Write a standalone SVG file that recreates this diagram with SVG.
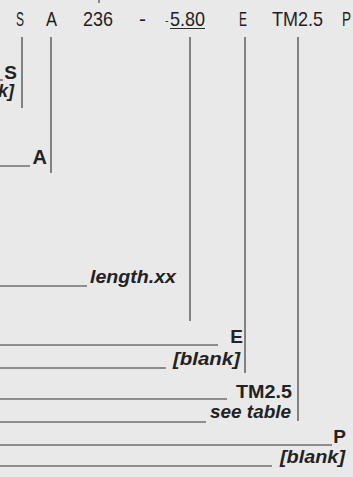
<svg xmlns="http://www.w3.org/2000/svg" width="353" height="477" viewBox="0 0 353 477">
<style>
.code{font-family:"Liberation Sans Narrow","Liberation Sans",Arial,sans-serif;font-size:21px;fill:#1e1e1e}
.lbl{font-family:"Liberation Sans",Arial,sans-serif;font-size:19px;font-weight:bold;fill:#222;text-anchor:end}
.desc{font-family:"Liberation Sans",Arial,sans-serif;font-size:18px;font-weight:bold;font-style:italic;fill:#222;text-anchor:end}
.v{stroke:#4a4a4a;stroke-width:1.3;fill:none}
.h{stroke:#6e6e6e;stroke-width:1.5;fill:none}
</style>
<rect width="353" height="477" fill="#e9e9e9"/>
<g id="code">
<text class="code" x="16" y="26" textLength="8" lengthAdjust="spacingAndGlyphs">S</text>
<text class="code" x="46" y="26" textLength="11" lengthAdjust="spacingAndGlyphs">A</text>
<text class="code" x="83" y="26" textLength="30" lengthAdjust="spacingAndGlyphs">236</text>
<text class="code" x="139" y="26" textLength="7" lengthAdjust="spacingAndGlyphs">-</text>
<text class="code" x="165" y="26"><tspan style="font-size:11px" dy="-2">-</tspan><tspan x="170" dy="2" textLength="35" lengthAdjust="spacingAndGlyphs">5.80</tspan></text>
<line x1="170" y1="28.5" x2="205" y2="28.5" stroke="#2a2a2a" stroke-width="1.2"/>
<text class="code" x="239" y="26" textLength="8" lengthAdjust="spacingAndGlyphs">E</text>
<text class="code" x="272" y="26" textLength="51" lengthAdjust="spacingAndGlyphs">TM2.5</text>
<text class="code" x="342" y="26" textLength="9" lengthAdjust="spacingAndGlyphs">P</text>
<line x1="99" y1="0" x2="99" y2="3" stroke="#444" stroke-width="1.2"/>
</g>
<g id="connectors">
<line class="v" x1="22" y1="37" x2="22" y2="108"/>
<line class="v" x1="51" y1="37" x2="51" y2="173"/>
<line class="v" x1="190" y1="37" x2="190" y2="321"/>
<line class="v" x1="245" y1="37" x2="245" y2="373"/>
<line class="v" x1="298" y1="37" x2="298" y2="421"/>
<line class="h" x1="0" y1="80" x2="3" y2="80"/>
<line class="h" x1="0" y1="166" x2="30" y2="166"/>
<line class="h" x1="0" y1="286" x2="87" y2="286"/>
<line class="h" x1="0" y1="345" x2="218" y2="345"/>
<line class="h" x1="0" y1="368" x2="166" y2="368"/>
<line class="h" x1="0" y1="399" x2="227" y2="399"/>
<line class="h" x1="0" y1="422" x2="206" y2="422"/>
<line class="h" x1="0" y1="445" x2="332" y2="445"/>
<line class="h" x1="0" y1="466" x2="272" y2="466"/>
</g>
<g id="node-S">
<text class="lbl" x="17" y="79">S</text>
<text class="desc" x="14" y="97">[blank]</text>
</g>
<g id="node-A">
<text class="lbl" x="47" y="164" style="font-size:20px">A</text>
</g>
<g id="node-length">
<text class="desc" x="176" y="283" textLength="86" lengthAdjust="spacingAndGlyphs">length.xx</text>
</g>
<g id="node-E">
<text class="lbl" x="243" y="343">E</text>
<text class="desc" x="240" y="365" textLength="67" lengthAdjust="spacingAndGlyphs">[blank]</text>
</g>
<g id="node-TM">
<text class="lbl" x="292" y="398" textLength="56" lengthAdjust="spacingAndGlyphs">TM2.5</text>
<text class="desc" x="291" y="418" textLength="81" lengthAdjust="spacingAndGlyphs">see table</text>
</g>
<g id="node-P">
<text class="lbl" x="346" y="443">P</text>
<text class="desc" x="345" y="463" textLength="65" lengthAdjust="spacingAndGlyphs">[blank]</text>
</g>
</svg>
